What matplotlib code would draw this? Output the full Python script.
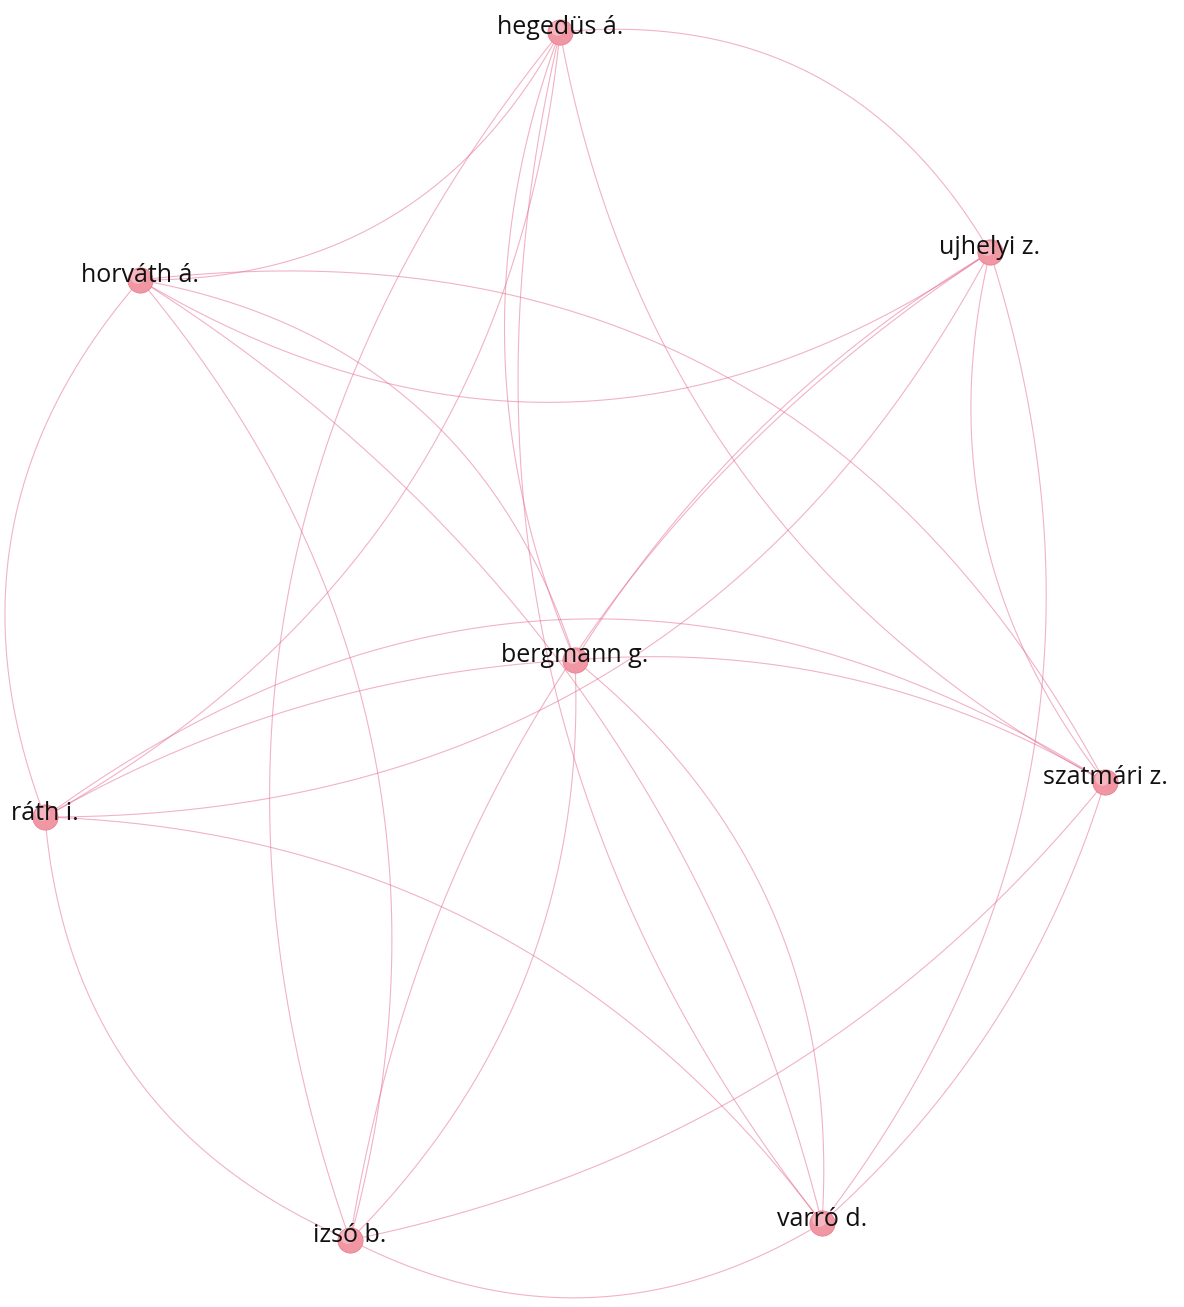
import numpy as np
import matplotlib.pyplot as plt

# co-authorship map: node names and layout coordinates (map units, y grows downward)
names = ["hegedüs á.", "ujhelyi z.", "horváth á.", "bergmann g.",
         "szatmári z.", "ráth i.", "izsó b.", "varró d."]
node_x = [560, 990, 140, 575, 1105, 45, 350, 822]
node_y = [32, 252, 280, 660, 782, 817, 1240, 1223]

# links (source, target) and curvature of each link
link_src = [0, 0, 0, 0, 0, 0, 0,
            1, 1, 1, 1, 1, 1,
            2, 2, 2, 2, 2,
            3, 3, 3, 3,
            4, 4, 4,
            5, 5,
            6]
link_dst = [1, 2, 3, 4, 5, 6, 7,
            2, 3, 4, 5, 6, 7,
            3, 4, 5, 6, 7,
            4, 5, 6, 7,
            5, 6, 7,
            6, 7,
            7]
link_bend = [0.16, 0.15, -0.10, -0.12, 0.13, -0.14, -0.12,
             0.16, -0.06, -0.12, 0.15, -0.11, 0.13,
             0.15, 0.17, -0.15, 0.13, 0.10,
             0.08, -0.06, 0.11, 0.13,
             -0.17, 0.09, 0.07,
             -0.15, 0.12,
             -0.14]

W, H = 1184, 1307
fig = plt.figure(figsize=(W / 100, H / 100), dpi=100)
ax = fig.add_axes([0, 0, 1, 1])
ax.set_xlim(0, W)
ax.set_ylim(H, 0)
ax.axis("off")

t = np.linspace(0, 1, 150)[:, None]
for a, b, s in zip(link_src, link_dst, link_bend):
    p0 = np.array([node_x[a], node_y[a]], float)
    p2 = np.array([node_x[b], node_y[b]], float)
    d = p2 - p0
    L = np.hypot(*d)
    left = np.array([d[1], -d[0]]) / L
    p1 = (p0 + p2) / 2 + left * 2 * s * L
    pts = (1 - t) ** 2 * p0 + 2 * (1 - t) * t * p1 + t ** 2 * p2
    ax.plot(pts[:, 0], pts[:, 1], color="#e4668a", lw=0.8, alpha=0.5,
            solid_capstyle="round", zorder=1)

ax.scatter(node_x, node_y, s=330, color="#f097a3", edgecolors="#ea8090",
           linewidths=0.6, zorder=2)
ax.scatter(np.array(node_x) - 3, np.array(node_y) - 4, s=110, color="#f8c4cb",
           alpha=0.7, linewidths=0, zorder=2)

for n, x, y in zip(names, node_x, node_y):
    ax.text(x, y - 4, n, ha="center", va="center", fontsize=18,
            family=["Open Sans", "DejaVu Sans"], color="#111111", zorder=3)

fig.savefig("out.png", dpi=100, facecolor="white")
